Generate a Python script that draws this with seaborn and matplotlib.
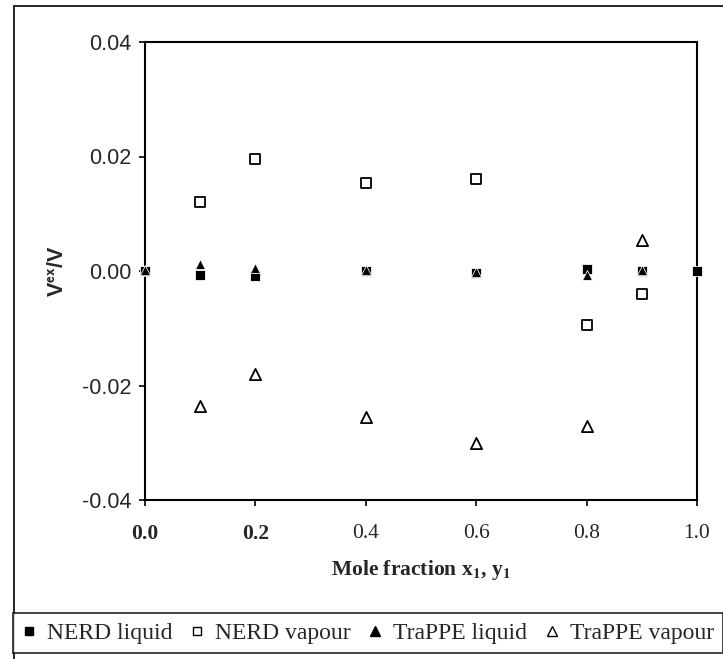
import matplotlib
matplotlib.use("Agg")
import matplotlib.pyplot as plt
import seaborn as sns
import pandas as pd
from matplotlib.lines import Line2D

# Mole fraction grid and excess volume ratios V^ex/V
x_nerd_liq = [0.0, 0.1, 0.2, 0.4, 0.6, 0.8, 0.9, 1.0]
nerd_liquid = [0.0, -0.0007, -0.0009, 0.0, -0.0004, 0.0004, 0.0, 0.0]

x_nerd_vap = [0.1, 0.2, 0.4, 0.6, 0.8, 0.9]
nerd_vapour = [0.012, 0.0195, 0.0153, 0.016, -0.0095, -0.004]

x_trappe_liq = [0.0, 0.1, 0.2, 0.4, 0.6, 0.8, 0.9]
trappe_liquid = [0.0002, 0.0012, 0.0006, 0.0002, -0.0002, -0.0007, 0.0001]

x_trappe_vap = [0.1, 0.2, 0.4, 0.6, 0.8, 0.9]
trappe_vapour = [-0.0235, -0.018, -0.0255, -0.030, -0.027, 0.0055]

series_names = ["NERD liquid", "NERD vapour", "TraPPE liquid", "TraPPE vapour"]
x_ticks = [0.0, 0.2, 0.4, 0.6, 0.8, 1.0]
y_ticks = [-0.04, -0.02, 0.00, 0.02, 0.04]

sns.set_style("ticks")
plt.rcParams["font.family"] = ["Liberation Serif", "DejaVu Serif"]

fig = plt.figure(figsize=(7.23, 6.59), dpi=100)
ax = fig.add_axes([145 / 723, 1 - 500 / 659, (697 - 145) / 723, (500 - 42) / 659])

styles = [
    dict(marker="s", color="black", s=50),
    dict(marker="s", color="white", edgecolor="black", s=60, linewidth=1.3),
    dict(marker="^", color="black", s=50),
    dict(marker="^", color="white", edgecolor="black", s=65, linewidth=1.3),
]
data = [(x_nerd_liq, nerd_liquid), (x_nerd_vap, nerd_vapour),
        (x_trappe_liq, trappe_liquid), (x_trappe_vap, trappe_vapour)]

# draw vapour series first so the liquid markers sit on top
for idx in [1, 3, 0, 2]:
    xs, ys = data[idx]
    df = pd.DataFrame({"x": xs, "y": ys})
    sns.scatterplot(data=df, x="x", y="y", ax=ax, legend=False, zorder=3,
                    clip_on=False, **styles[idx])

ax.set_xlim(0, 1.0)
ax.set_ylim(-0.04, 0.04)
ax.set_xticks(x_ticks)
ax.set_yticks(y_ticks)
ax.set_xticklabels([f"{v:.1f}" for v in x_ticks], fontsize=15.5,
                   family=["Liberation Serif"])
for lab in ax.get_xticklabels()[:2]:
    lab.set_fontweight("bold")
ax.set_yticklabels([f"{v:.2f}" for v in y_ticks], fontsize=15.5,
                   family=["Liberation Sans"])

for sp in ax.spines.values():
    sp.set_visible(True)
    sp.set_linewidth(1.5)
    sp.set_color("black")
ax.tick_params(direction="out", length=4, width=1.2, color="black")
ax.tick_params(axis="x", pad=13)
ax.tick_params(axis="y", pad=6)

ax.set_xlabel(r"Mole fraction x$_{\mathbf{1}}$, y$_{\mathbf{1}}$", fontsize=15.5,
              fontweight="bold", family=["Liberation Serif"],
              math_fontfamily="stix", labelpad=10)
ax.set_ylabel(r"V$^{\mathbf{ex}}$/V", fontsize=15.5, fontweight="bold",
              family=["Liberation Sans"], math_fontfamily="stixsans",
              labelpad=10)

# legend below the plot
handles = [
    Line2D([], [], ls="none", marker="s", markersize=5.5, color="black"),
    Line2D([], [], ls="none", marker="s", markersize=5.5, markerfacecolor="white",
           markeredgecolor="black", markeredgewidth=1.0),
    Line2D([], [], ls="none", marker="^", markersize=6.5, color="black"),
    Line2D([], [], ls="none", marker="^", markersize=6.5, markerfacecolor="white",
           markeredgecolor="black", markeredgewidth=1.0),
]
leg = fig.legend(handles, series_names, loc="center",
                 bbox_to_anchor=(368 / 723, 1 - 633 / 659), ncol=4,
                 frameon=True, fancybox=False, edgecolor="black",
                 fontsize=17, handlelength=0.6, handletextpad=0.45,
                 columnspacing=0.75, borderpad=0.4, borderaxespad=0)
leg.get_frame().set_linewidth(1.3)

# outer frame lines
fig.add_artist(Line2D([14 / 723, 14 / 723], [0, 1 - 6 / 659],
                      transform=fig.transFigure, color="black", lw=1.2))
fig.add_artist(Line2D([14 / 723, 1], [1 - 6 / 659, 1 - 6 / 659],
                      transform=fig.transFigure, color="black", lw=1.2))

fig.savefig("out.png", dpi=100, facecolor="white")
